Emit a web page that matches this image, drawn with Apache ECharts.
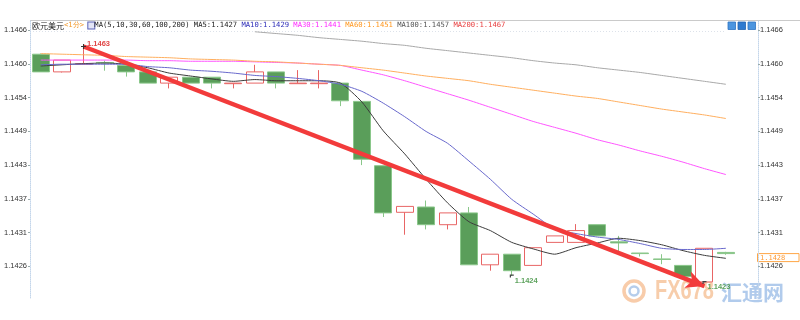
<!DOCTYPE html>
<html><head><meta charset="utf-8">
<script src="https://cdn.jsdelivr.net/npm/echarts@6/dist/echarts.min.js"></script>
<style>html,body{margin:0;padding:0;background:#fff}#c{width:800px;height:320px}</style>
</head><body><div id="c"></div>
<script>
const categories = ['1','2','3','4','5','6','7','8','9','10','11','12','13','14','15','16','17','18','19','20','21','22','23','24','25','26','27','28','29','30','31','32','33','34'];
// [open, close, low, high]
const candles = [
[1.14617,1.14587,1.14587,1.14618],
[1.14587,1.14607,1.14586,1.14607],
[1.14600,1.14601,1.14600,1.14630],
[1.14603,1.14602,1.14589,1.14606],
[1.14598,1.14587,1.14579,1.14598],
[1.14587,1.14568,1.14568,1.14587],
[1.14568,1.14578,1.14559,1.14578],
[1.14578,1.14568,1.14568,1.14578],
[1.14578,1.14568,1.14559,1.14578],
[1.14567,1.14568,1.14559,1.14568],
[1.14568,1.14587,1.14568,1.14599],
[1.14587,1.14568,1.14559,1.14587],
[1.14567,1.14568,1.14567,1.14590],
[1.14567,1.14568,1.14559,1.14590],
[1.14568,1.14538,1.14529,1.14568],
[1.14537,1.14439,1.14429,1.14537],
[1.14428,1.14348,1.14341,1.14428],
[1.14349,1.14359,1.14311,1.14359],
[1.14358,1.14328,1.14320,1.14369],
[1.14328,1.14348,1.14320,1.14348],
[1.14348,1.14260,1.14260,1.14358],
[1.14260,1.14278,1.14250,1.14278],
[1.14278,1.14250,1.14241,1.14278],
[1.14259,1.14289,1.14259,1.14289],
[1.14298,1.14309,1.14298,1.14309],
[1.14298,1.14318,1.14298,1.14329],
[1.14328,1.14309,1.14309,1.14328],
[1.14299,1.14297,1.14280,1.14309],
[1.14280,1.14279,1.14274,1.14280],
[1.14270,1.14269,1.14261,1.14278],
[1.14259,1.14240,1.14240,1.14259],
[1.14231,1.14288,1.14230,1.14288],
[1.14281,1.14279,1.14277,1.14282]
];
const ma5 = [1.14597,1.14599,1.14601,1.14602,1.14600,1.14594,1.14585,1.14580,1.14575,1.14571,1.14574,1.14572,1.14572,1.14572,1.14568,1.14536,1.14487,1.14448,1.14405,1.14365,1.14333,1.14318,1.14298,1.14287,1.14278,1.14289,1.14297,1.14305,1.14301,1.14294,1.14284,1.14276,1.14271];
const ma10 = [1.14599,1.14600,1.14600,1.14600,1.14600,1.14596,1.14594,1.14590,1.14588,1.14585,1.14581,1.14579,1.14576,1.14572,1.14566,1.14554,1.14534,1.14511,1.14486,1.14466,1.14436,1.14405,1.14371,1.14346,1.14321,1.14313,1.14307,1.14303,1.14296,1.14288,1.14286,1.14286,1.14288];
const ma30 = [1.14607,1.14607,1.14607,1.14607,1.14607,1.14606,1.14606,1.14605,1.14605,1.14605,1.14604,1.14603,1.14602,1.14600,1.14598,1.14590,1.14582,1.14572,1.14561,1.14550,1.14539,1.14527,1.14515,1.14503,1.14493,1.14483,1.14472,1.14463,1.14453,1.14444,1.14434,1.14423,1.14413];
const ma60 = [1.14618,1.14617,1.14616,1.14615,1.14613,1.14612,1.14611,1.14609,1.14608,1.14607,1.14605,1.14604,1.14602,1.14600,1.14598,1.14594,1.14590,1.14585,1.14580,1.14576,1.14572,1.14566,1.14561,1.14556,1.14551,1.14546,1.14542,1.14536,1.14530,1.14524,1.14519,1.14514,1.14508];
const ma100 = ['-','-','-','-','-','-','-','-','-','-',1.14655,1.14652,1.14649,1.14645,1.14642,1.14639,1.14635,1.14632,1.14627,1.14623,1.14619,1.14615,1.14611,1.14606,1.14602,1.14599,1.14594,1.14590,1.14586,1.14581,1.14576,1.14571,1.14566];
const yTicks = [1.142575,1.1431465,1.143718,1.1442895,1.144861,1.1454325,1.146004,1.1465755];
const legendValues = ['1.1427','1.1429','1.1441','1.1451','1.1457','1.1467'];
const lastPrice = 1.14279;
const arrowEnd = [31, 1.14224];
const yMin = 1.1420374, yMax = 1.1467495;

const chart = echarts.init(document.getElementById('c'), null, {renderer:'canvas'});
const axisFont = {color:'#333', fontSize:7.5, fontFamily:'Liberation Sans', formatter: v => v.toFixed(4), customValues: yTicks};
function yAx(pos, margin){
  return {type:'value', position:pos, min:yMin, max:yMax, scale:true,
    axisLine:{show:true, lineStyle:{color:'#c3d6ea', type:'dotted'}},
    axisTick:{show:true, length:2, customValues:yTicks, lineStyle:{color:'#9aa'}},
    axisLabel:Object.assign({margin:margin}, axisFont),
    splitLine:{show:false}};
}
const cross = 'path://M4,0H6V4H10V6H6V10H4V6H0V4H4Z';
const corner = 'path://M0,0H10V3H3V8H0Z';
function lineSeries(name, data, color, extra){
  return Object.assign({name, type:'line', data, showSymbol:false, smooth:0.2, silent:true,
    lineStyle:{width:1, color}, itemStyle:{color}, z:3}, extra||{});
}
const option = {
  animation:false,
  grid:{left:30, right:42, top:20, bottom:22},
  xAxis:{type:'category', data:categories, boundaryGap:true,
    axisLine:{show:false}, axisTick:{show:false}, axisLabel:{show:false}, splitLine:{show:false}},
  yAxis:[yAx('left',3), yAx('right',2)],
  series:[
    {type:'candlestick', data:candles, barWidth:17.5, silent:true,
      itemStyle:{color:'#ffffff', borderColor:'#e86565', color0:'#5a9e5a', borderColor0:'#8ac78a', borderWidth:1},
      markPoint:{silent:true, animation:false,
        data:[
          {coord:[categories[2], candles[2][3]], symbol:cross, symbolSize:5, itemStyle:{color:'#333'},
            label:{show:true, formatter:candles[2][3].toFixed(4), position:'right', distance:1, offset:[0,-3], color:'#e04646', fontSize:7.5, fontWeight:'bold', fontFamily:'Liberation Sans'}},
          {coord:[categories[22], candles[22][2]], symbol:corner, symbolSize:[4,3], itemStyle:{color:'#444'},
            label:{show:true, formatter:candles[22][2].toFixed(4), position:'right', distance:1, offset:[0,5], color:'#5ea35e', fontSize:7.5, fontWeight:'bold', fontFamily:'Liberation Sans'}},
          {coord:[categories[31], candles[31][2]], symbol:corner, symbolSize:[4,3], itemStyle:{color:'#444'},
            label:{show:true, formatter:candles[31][2].toFixed(4), position:'right', distance:1, offset:[0,4], color:'#5ea35e', fontSize:7.5, fontWeight:'bold', fontFamily:'Liberation Sans'}}
        ]}
    },
    lineSeries('MA5', ma5, '#3c3c3c', {markLine:{silent:true, animation:false, symbol:'none', label:{show:false},
      lineStyle:{color:'#7fb0e6', type:'dotted', width:1}, data:[{yAxis:lastPrice}]}}),
    lineSeries('MA10', ma10, '#6868cc'),
    lineSeries('MA30', ma30, '#ff55ff'),
    lineSeries('MA60', ma60, '#ffae5e'),
    lineSeries('MA100', ma100, '#a8a8a8', {markLine:{silent:true, animation:false, symbol:['none','arrow'], symbolSize:[13,18],
      label:{show:false}, emphasis:{disabled:true},
      lineStyle:{color:'#f23b3b', width:4.5, type:'solid'},
      data:[[{coord:[categories[2], candles[2][3]]},{coord:[categories[arrowEnd[0]], arrowEnd[1]]}]]}, z:5})
  ]
};
chart.setOption(option);

const py = chart.convertToPixel({yAxisIndex:0}, lastPrice);
const mono = 'DejaVu Sans Mono';
const legendText = '{cn|欧元美元}{pc|<1分>}{sp| }{ic| }{k|MA(5,10,30,60,100,200) MA5:' + legendValues[0] + ' }' +
  '{b|MA10:' + legendValues[1] + ' }{m|MA30:' + legendValues[2] + ' }{o|MA60:' + legendValues[3] + ' }' +
  '{g|MA100:' + legendValues[4] + ' }{r|MA200:' + legendValues[5] + '}';
const mk = c => ({fontFamily:mono, fontSize:7.2, fill:c});
chart.setOption({graphic:[
  {type:'group', z:-10, silent:true, children:[
    {type:'circle', shape:{cx:634, cy:291, r:10}, style:{fill:'none', stroke:'#f5bb8e', lineWidth:3.5, opacity:0.75}},
    {type:'circle', shape:{cx:634, cy:291, r:4.5}, style:{fill:'none', stroke:'#a3c0e6', lineWidth:2.5, opacity:0.8}},
    {type:'text', x:655, y:292, scaleX:0.74, style:{text:'FX678', fill:'#f6c49c', font:'bold 27px "Liberation Sans"', verticalAlign:'middle', opacity:0.85}},
    {type:'text', x:721, y:292, style:{text:'汇通网', fill:'#a9c5ea', font:'bold 21px "Noto Sans CJK SC"', verticalAlign:'middle', opacity:0.9}}
  ]},
  {type:'line', silent:true, shape:{x1:30, y1:20.5, x2:800, y2:20.5}, style:{stroke:'#cacaca', lineWidth:1}},
  {type:'line', silent:true, shape:{x1:30, y1:31.5, x2:725, y2:31.5}, style:{stroke:'#dde2ea', lineWidth:1, lineDash:[1,2]}},
  {type:'text', silent:true, x:32, y:25.5, style:{text:legendText, verticalAlign:'middle',
    rich:{
      cn:{fontFamily:'Noto Sans CJK SC', fontSize:8, fill:'#222'},
      pc:mk('#f29a2e'),
      sp:mk('#222'),
      ic:{fontFamily:mono, fontSize:5, width:6, height:6, backgroundColor:'#e3e5f7', borderColor:'#5a62b8', borderWidth:1, fill:'#5a62b8'},
      k:mk('#222'), b:mk('#2e2eb8'), m:mk('#ff2cff'), o:mk('#ff9820'), g:mk('#555'), r:mk('#e84040')
    }}},
  {type:'rect', silent:true, shape:{x:728, y:22, width:7.5, height:7.5}, style:{fill:'#4b95e0', stroke:'#2f74c2', lineWidth:0.8}},
  {type:'rect', silent:true, shape:{x:738, y:22, width:7.5, height:7.5}, style:{fill:'#2f7bd0', stroke:'#2466b0', lineWidth:0.8}},
  {type:'rect', silent:true, shape:{x:748, y:22, width:7.5, height:7.5}, style:{fill:'#4b95e0', stroke:'#2f74c2', lineWidth:0.8}},
  {type:'rect', silent:true, shape:{x:757.5, y:py, width:41.5, height:8}, style:{fill:'#ffffff', stroke:'#ffa646', lineWidth:1}},
  {type:'text', silent:true, x:760, y:py+4.3, style:{text:'1.1428', fill:'#ff9a33', font:'7px "DejaVu Sans Mono"', verticalAlign:'middle'}}
]});
</script></body></html>
